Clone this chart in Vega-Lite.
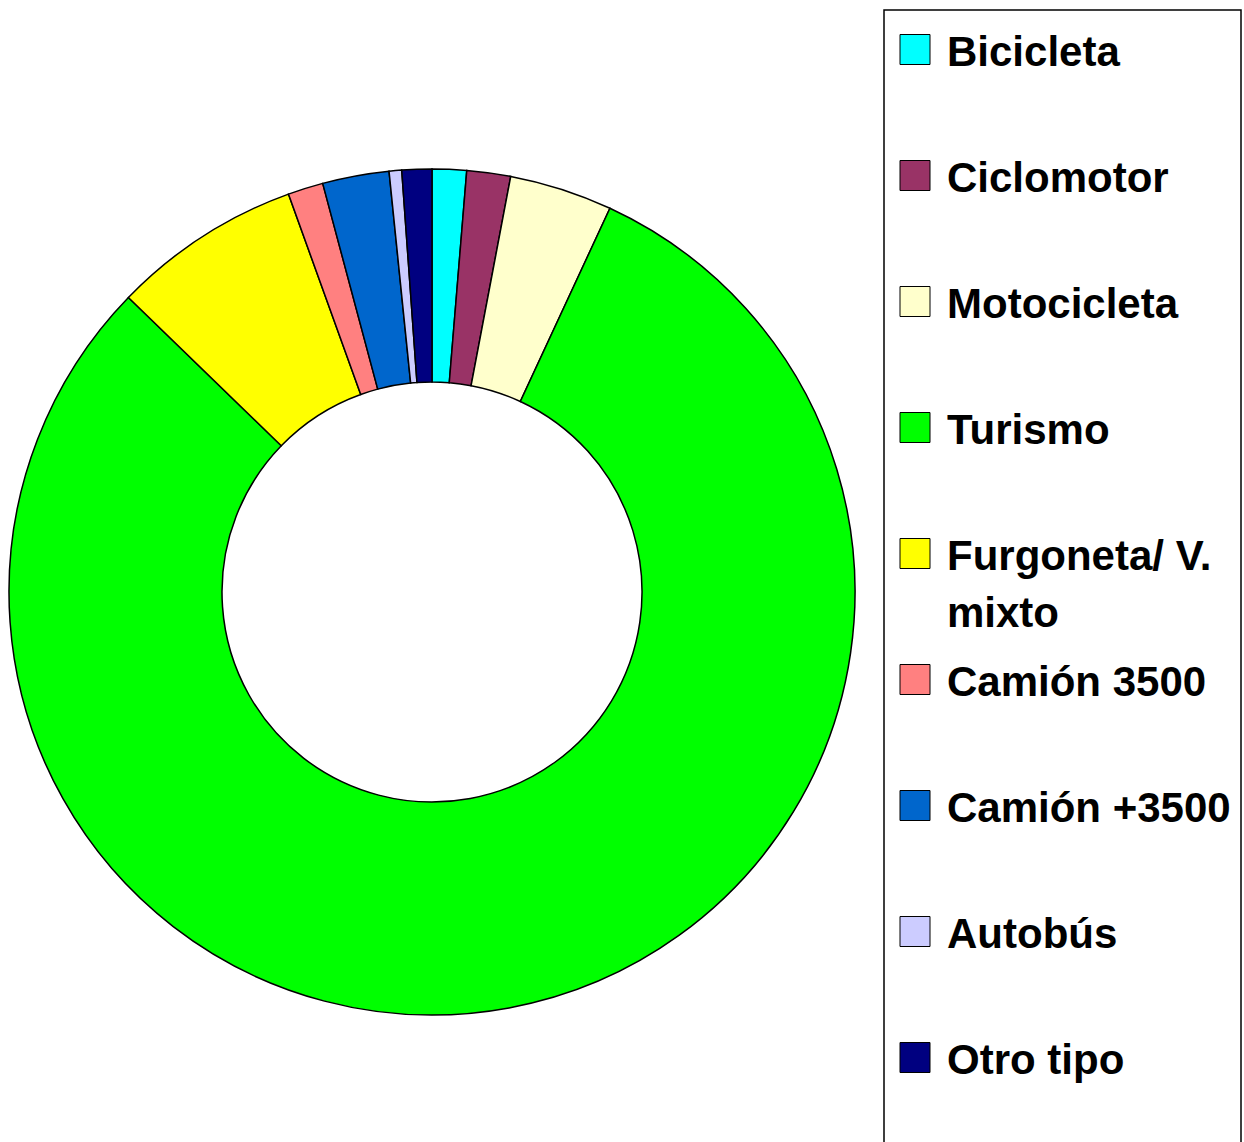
{
  "$schema": "https://vega.github.io/schema/vega-lite/v6.json",
  "width": 864,
  "height": 1100,
  "autosize": {"type": "none"},
  "padding": {"top": 42, "left": 0, "right": 380, "bottom": 0},
  "background": "white",
  "config": {"view": {"stroke": null}},
  "data": {
    "values": [
      {"tipo": "Bicicleta", "pct": 1.31, "orden": 1},
      {"tipo": "Ciclomotor", "pct": 1.67, "orden": 2},
      {"tipo": "Motocicleta", "pct": 3.93, "orden": 3},
      {"tipo": "Turismo", "pct": 80.35, "orden": 4},
      {"tipo": "Furgoneta/ V. mixto", "pct": 7.23, "orden": 5},
      {"tipo": "Camión 3500", "pct": 1.35, "orden": 6},
      {"tipo": "Camión +3500", "pct": 2.54, "orden": 7},
      {"tipo": "Autobús", "pct": 0.48, "orden": 8},
      {"tipo": "Otro tipo", "pct": 1.14, "orden": 9}
    ]
  },
  "mark": {"type": "arc", "outerRadius": 423, "innerRadius": 210, "stroke": "black", "strokeWidth": 1.5},
  "encoding": {
    "theta": {"field": "pct", "type": "quantitative", "stack": true},
    "order": {"field": "orden", "type": "quantitative"},
    "color": {
      "field": "tipo",
      "type": "nominal",
      "scale": {
        "domain": ["Bicicleta", "Ciclomotor", "Motocicleta", "Turismo", "Furgoneta/ V. mixto", "Camión 3500", "Camión +3500", "Autobús", "Otro tipo"],
        "range": ["#00FFFF", "#993366", "#FFFFCC", "#00FF00", "#FFFF00", "#FF8080", "#0066CC", "#CCCCFF", "#000080"]
      },
      "legend": {
        "orient": "none",
        "legendX": 884,
        "legendY": -32,
        "title": null,
        "padding": 10,
        "strokeColor": "black",
        "fillColor": "white",
        "symbolType": "square",
        "symbolSize": 900,
        "symbolStrokeColor": "black",
        "symbolStrokeWidth": 1,
        "symbolOpacity": 1,
        "symbolOffset": 0,
        "labelFont": "Liberation Sans, Arial, sans-serif",
        "labelFontSize": 42,
        "labelFontWeight": "bold",
        "labelColor": "black",
        "labelLimit": 500,
        "labelOffset": 11,
        "labelBaseline": "alphabetic",
        "clipHeight": 126,
        "rowPadding": 0,
        "labelExpr": "datum.label == 'Furgoneta/ V. mixto' ? ['Furgoneta/ V.', 'mixto'] : datum.label",
        "encode": {
          "legend": {"update": {"strokeWidth": {"value": 1.5}}},
          "symbols": {"update": {"y": {"value": 29.5}}},
          "labels": {"update": {"y": {"value": 46}, "lineHeight": {"value": 57}}}
        }
      }
    }
  }
}
